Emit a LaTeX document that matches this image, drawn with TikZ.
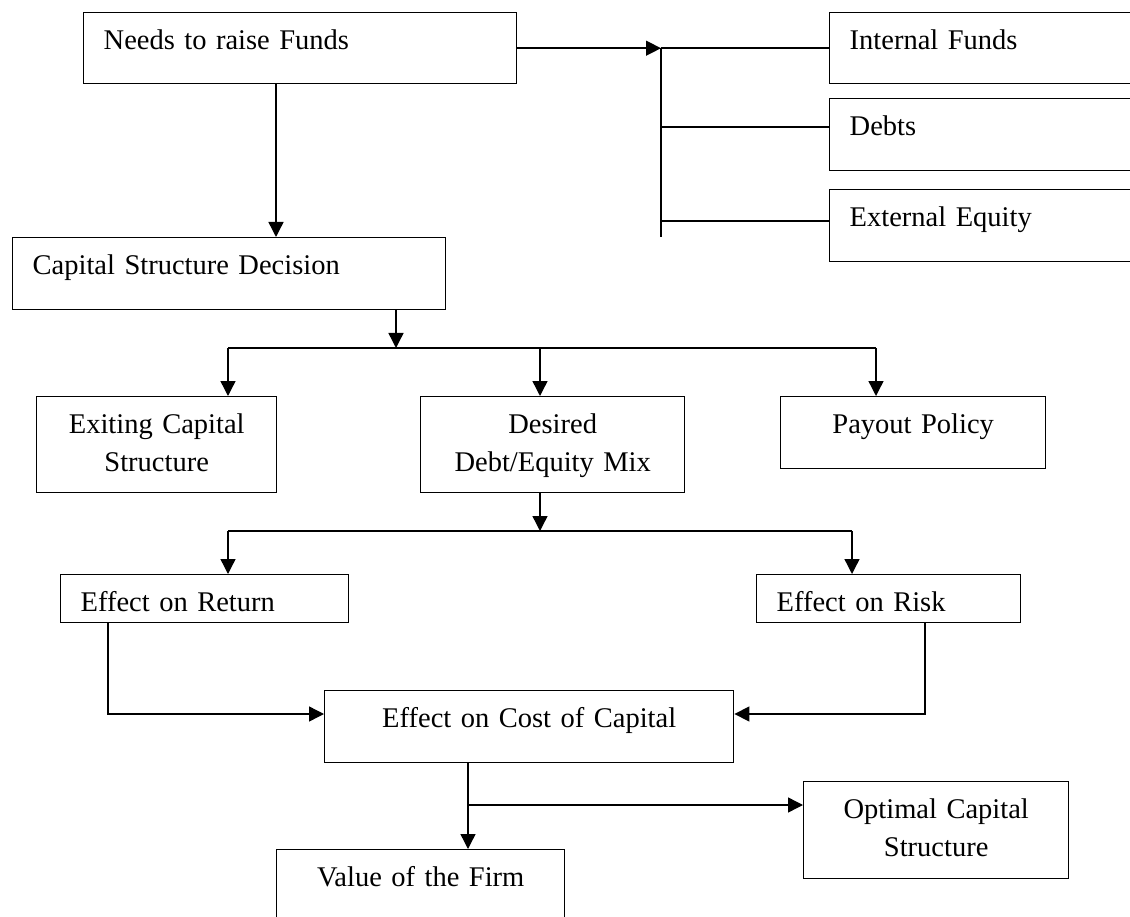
\documentclass[tikz,border=0pt]{standalone}
\usepackage{fontspec}
\setmainfont{Liberation Serif}
\usetikzlibrary{arrows.meta}

\begin{document}
\begin{tikzpicture}[x=1pt,y=-1pt]
        \tikzset{box/.style={draw, line width=1.4pt, anchor=north west, inner ysep=0pt,
                text height=37pt, font=\fontsize{28.5}{37.5}\selectfont},
            leftbox/.style={box, inner xsep=20pt, align=left},
            midbox/.style={box, inner xsep=0pt, align=center},
            conn/.style={line width=1.4pt},
            arr/.style={conn, -{Triangle[length=15pt,width=15pt]}}}
        \useasboundingbox (0,0) rectangle (1130,917);
        \clip (0,0) rectangle (1130,917);
        \node[leftbox, text width=393pt, text depth=34pt] (needs) at (83,12) {Needs to raise Funds};
        \node[leftbox, text width=280pt, text depth=34pt] (internal) at (829,12) {Internal Funds};
        \node[leftbox, text width=280pt, text depth=35pt] (debts) at (829,98) {Debts};
        \node[leftbox, text width=280pt, text depth=35pt] (external) at (829,189) {External Equity};
        \node[leftbox, text width=393pt, text depth=35pt] (capital) at (12,237) {Capital Structure Decision};
        \node[midbox, text width=240pt, text depth=59pt] (exiting) at (36,396) {Exiting Capital\\Structure};
        \node[midbox, text width=264pt, text depth=59pt] (desired) at (420,396) {Desired\\Debt/Equity Mix};
        \node[midbox, text width=265pt, text depth=35pt] (payout) at (780,396) {Payout Policy};
        \node[leftbox, text width=248pt, text depth=11pt] (return) at (60,574) {Effect on Return};
        \node[leftbox, text width=224pt, text depth=11pt] (risk) at (756,574) {Effect on Risk};
        \node[midbox, text width=409pt, text depth=35pt] (cost) at (324,690) {Effect on Cost of Capital};
        \node[midbox, text width=265pt, text depth=60pt] (optimal) at (803,781) {Optimal Capital\\Structure};
        \node[midbox, text width=288pt, text depth=35pt] (value) at (276,849) {Value of the Firm};

        \coordinate (fork) at (661,47);
        \coordinate (forkend) at (661,237);
        \coordinate (b2) at (661,127);
        \coordinate (b3) at (661,221);
        \draw[arr] (needs.east) -- (needs.east -| fork);
        \draw[conn] (needs.east -| fork) -- (internal.west);
        \draw[conn] (needs.east -| fork) -- (forkend);
        \draw[conn] (b2) -- (b2 -| debts.west);
        \draw[conn] (b3) -- (b3 -| external.west);

        \coordinate (d1) at (276,0);
        \draw[arr] (needs.south -| d1) -- (capital.north -| d1);

        \coordinate (s1) at (396,348);
        \coordinate (s1l) at (228,348);
        \coordinate (s1m) at (540,348);
        \coordinate (s1r) at (876,348);
        \draw[arr] (capital.south -| s1) -- (s1);
        \draw[conn] (s1l) -- (s1r);
        \draw[arr] (s1l) -- (s1l |- exiting.north);
        \draw[arr] (s1m) -- (s1m |- desired.north);
        \draw[arr] (s1r) -- (s1r |- payout.north);

        \coordinate (s2) at (540,531);
        \coordinate (s2l) at (228,531);
        \coordinate (s2r) at (852,531);
        \draw[arr] (desired.south -| s2) -- (s2);
        \draw[conn] (s2l) -- (s2r);
        \draw[arr] (s2l) -- (s2l |- return.north);
        \draw[arr] (s2r) -- (s2r |- risk.north);

        \coordinate (r1) at (108,714);
        \coordinate (r2) at (925,714);
        \draw[arr] (return.south -| r1) -- (r1) -- (r1 -| cost.west);
        \draw[arr] (risk.south -| r2) -- (r2) -- (r2 -| cost.east);

        \coordinate (v1) at (468,805);
        \draw[arr] (cost.south -| v1) -- (v1 |- value.north);
        \draw[arr] (v1) -- (v1 -| optimal.west);
    \end{tikzpicture}
\end{document}
